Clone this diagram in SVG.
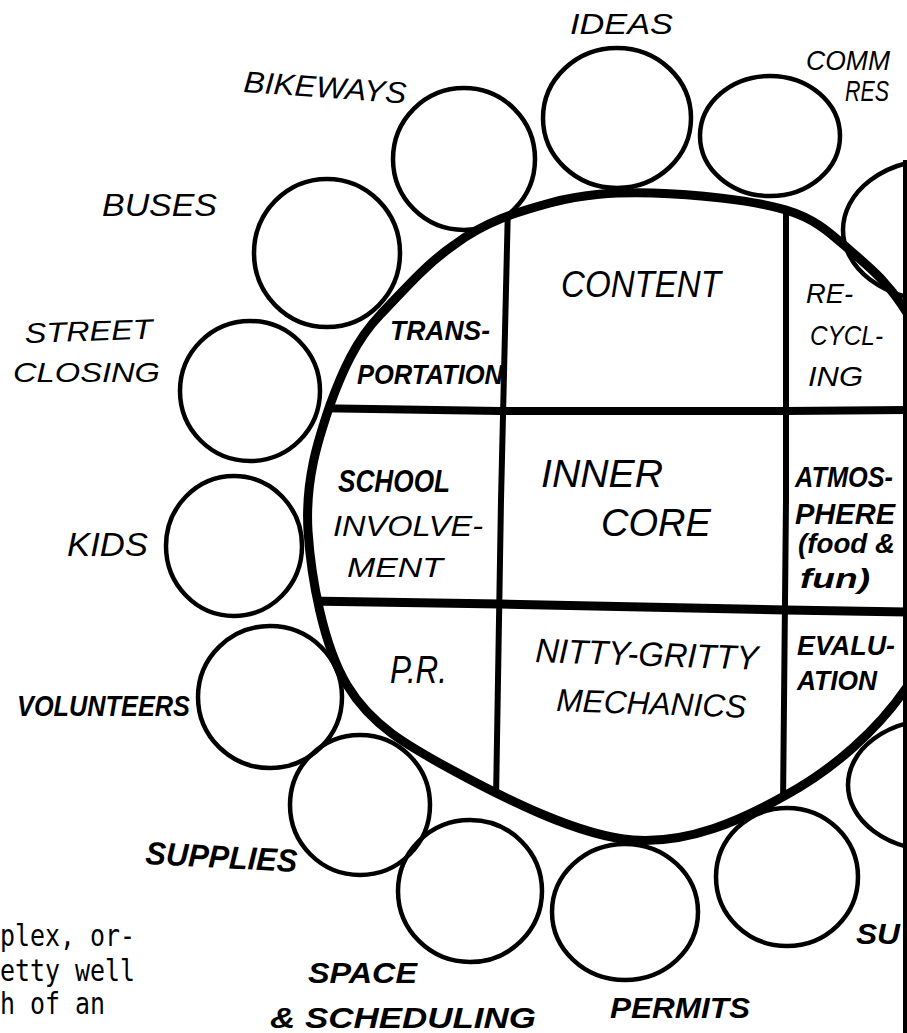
<svg xmlns="http://www.w3.org/2000/svg" width="907" height="1033" viewBox="0 0 907 1033">
<style>
.blob{fill:none;stroke:#000;stroke-width:4.5}
.core{fill:none;stroke:#000;stroke-width:9}
.grid{fill:none;stroke:#000}
.lab{font-family:"Liberation Sans",Arial,sans-serif;font-style:italic;fill:#000}
.b{font-weight:bold}
.mono{font-family:"DejaVu Sans Mono","Liberation Mono",monospace;font-size:31px;fill:#000}
</style>
<defs>
<path id="corePath" d="M653,193 C692,194 753,200 786,210 C819,220 833,236 853,253 C873,270 890,285 907,313 C924,341 945,384 955,420 C965,456 973,486 965,530 C957,575 937,643 907,687 C877,731 832,770 786,795 C740,821 688,844 633,840 C578,836 502,797 454,771 C406,745 371,725 347,685 C323,645 311,577 308,531 C305,480 318,440 330,405 C342,372 356,340 380,315 C404,290 425,265 454,245 C486,221 517,212 550,203 C583,194 614,192 653,193 Z"/>
<clipPath id="coreClip"><use href="#corePath"/></clipPath>
</defs>
<rect width="907" height="1033" fill="#fff"/>

<g id="core">
<g clip-path="url(#coreClip)" class="grid">
<path d="M508,205 L501,500 L496,800" stroke-width="6"/>
<path d="M786,205 L786,500 L783,805" stroke-width="6"/>
<path d="M300,408 L500,411 L786,411 L910,410" stroke-width="8"/>
<path d="M300,601 L500,604 L786,610 L910,612" stroke-width="9"/>
</g>
<use href="#corePath" class="core"/>
<text class="lab b" x="390" y="340" font-size="28" textLength="100" lengthAdjust="spacingAndGlyphs">TRANS-</text>
<text class="lab b" x="357" y="384" font-size="28" textLength="146" lengthAdjust="spacingAndGlyphs">PORTATION</text>
<text class="lab" x="561" y="297" font-size="36" textLength="160" lengthAdjust="spacingAndGlyphs">CONTENT</text>
<text class="lab" x="806" y="303" font-size="28" textLength="47" lengthAdjust="spacingAndGlyphs">RE-</text>
<text class="lab" x="810" y="345" font-size="28" textLength="73" lengthAdjust="spacingAndGlyphs">CYCL-</text>
<text class="lab" x="808" y="386" font-size="28" textLength="55" lengthAdjust="spacingAndGlyphs">ING</text>
<text class="lab b" x="338" y="492" font-size="32" textLength="112" lengthAdjust="spacingAndGlyphs">SCHOOL</text>
<text class="lab" x="333" y="536" font-size="30" textLength="150" lengthAdjust="spacingAndGlyphs">INVOLVE-</text>
<text class="lab" x="347" y="577" font-size="28" textLength="96" lengthAdjust="spacingAndGlyphs">MENT</text>
<text class="lab" x="541" y="487" font-size="38" textLength="122" lengthAdjust="spacingAndGlyphs">INNER</text>
<text class="lab" x="601" y="536" font-size="38" textLength="110" lengthAdjust="spacingAndGlyphs">CORE</text>
<text class="lab b" x="795" y="487" font-size="29" textLength="98" lengthAdjust="spacingAndGlyphs">ATMOS-</text>
<text class="lab b" x="795" y="524" font-size="29" textLength="100" lengthAdjust="spacingAndGlyphs">PHERE</text>
<text class="lab b" x="798" y="553" font-size="28" textLength="97" lengthAdjust="spacingAndGlyphs">(food &amp;</text>
<text class="lab b" x="800" y="588" font-size="28" textLength="70" lengthAdjust="spacingAndGlyphs">fun)</text>
<text class="lab" x="390" y="683" font-size="38" textLength="57" lengthAdjust="spacingAndGlyphs">P.R.</text>
<text class="lab" x="535" y="662" font-size="34" textLength="223" lengthAdjust="spacingAndGlyphs" transform="rotate(2 535 662)">NITTY-GRITTY</text>
<text class="lab" x="556" y="711" font-size="32" textLength="190" lengthAdjust="spacingAndGlyphs" transform="rotate(2 556 711)">MECHANICS</text>
<text class="lab b" x="797" y="655" font-size="28" textLength="98" lengthAdjust="spacingAndGlyphs">EVALU-</text>
<text class="lab b" x="797" y="690" font-size="28" textLength="80" lengthAdjust="spacingAndGlyphs">ATION</text>
</g>

<g id="node-ideas"><ellipse class="blob" cx="617" cy="118" rx="74" ry="70"/>
<text class="lab" x="570" y="34" font-size="30" textLength="103" lengthAdjust="spacingAndGlyphs">IDEAS</text></g>
<g id="node-community"><ellipse class="blob" cx="770" cy="136" rx="70" ry="60"/>
<text class="lab" x="806" y="70" font-size="28" textLength="84" lengthAdjust="spacingAndGlyphs">COMM</text>
<text class="lab" x="845" y="101" font-size="29" textLength="44" lengthAdjust="spacingAndGlyphs">RES</text></g>
<g id="node-right-top"><ellipse class="blob" cx="935" cy="230" rx="92" ry="70"/></g>
<g id="node-bikeways"><ellipse class="blob" cx="464" cy="159" rx="71" ry="71"/>
<text class="lab" x="243" y="92" font-size="30" textLength="163" lengthAdjust="spacingAndGlyphs" transform="rotate(4 243 92)">BIKEWAYS</text></g>
<g id="node-buses"><ellipse class="blob" cx="327" cy="253" rx="73" ry="74"/>
<text class="lab" x="102" y="216" font-size="32" textLength="115" lengthAdjust="spacingAndGlyphs">BUSES</text></g>
<g id="node-street"><ellipse class="blob" cx="250" cy="391" rx="70" ry="70"/>
<text class="lab" x="25" y="343" font-size="28" textLength="128" lengthAdjust="spacingAndGlyphs" transform="rotate(-2 25 343)">STREET</text>
<text class="lab" x="13" y="382" font-size="28" textLength="147" lengthAdjust="spacingAndGlyphs">CLOSING</text></g>
<g id="node-kids"><ellipse class="blob" cx="234" cy="546" rx="68" ry="70"/>
<text class="lab" x="67" y="556" font-size="33" textLength="81" lengthAdjust="spacingAndGlyphs">KIDS</text></g>
<g id="node-volunteers"><ellipse class="blob" cx="270" cy="697" rx="72" ry="71"/>
<text class="lab b" x="17" y="716" font-size="30" textLength="173" lengthAdjust="spacingAndGlyphs">VOLUNTEERS</text></g>
<g id="node-supplies"><ellipse class="blob" cx="360" cy="805" rx="70" ry="70"/>
<text class="lab b" x="145" y="864" font-size="32" textLength="152" lengthAdjust="spacingAndGlyphs" transform="rotate(3 145 864)">SUPPLIES</text></g>
<g id="node-space"><ellipse class="blob" cx="470" cy="891" rx="72" ry="71"/>
<text class="lab b" x="308" y="983" font-size="30" textLength="109" lengthAdjust="spacingAndGlyphs">SPACE</text>
<text class="lab b" x="270" y="1028" font-size="30" textLength="266" lengthAdjust="spacingAndGlyphs">&amp; SCHEDULING</text></g>
<g id="node-permits"><ellipse class="blob" cx="625" cy="912" rx="73" ry="68"/>
<text class="lab b" x="610" y="1018" font-size="30" textLength="140" lengthAdjust="spacingAndGlyphs">PERMITS</text></g>
<g id="node-bottom-right"><ellipse class="blob" cx="787" cy="877" rx="71" ry="69"/></g>
<g id="node-su"><ellipse class="blob" cx="935" cy="785" rx="87" ry="65"/>
<text class="lab b" x="856" y="944" font-size="30" textLength="44" lengthAdjust="spacingAndGlyphs">SU</text></g>

<g id="connectors"></g>

<line x1="905" y1="160" x2="905" y2="1033" stroke="#000" stroke-width="4"/>

<g id="body-text">
<text class="mono" x="0" y="946" textLength="135" lengthAdjust="spacingAndGlyphs">plex, or-</text>
<text class="mono" x="0" y="981" textLength="135" lengthAdjust="spacingAndGlyphs">etty well</text>
<text class="mono" x="0" y="1014" textLength="105" lengthAdjust="spacingAndGlyphs">h of an</text>
</g>
</svg>
